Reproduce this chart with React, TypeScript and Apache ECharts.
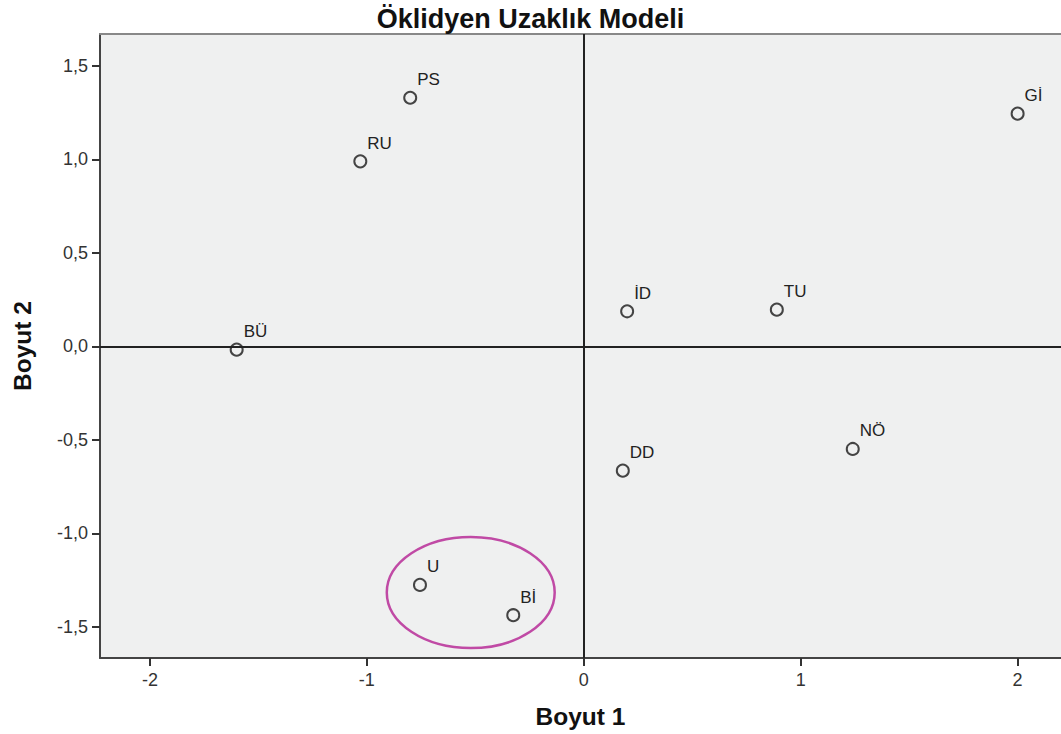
import React, { useEffect, useRef } from "react";
import * as echarts from "echarts";

const labels = ["PS", "RU", "Gİ", "İD", "TU", "BÜ", "NÖ", "DD", "U", "Bİ"];
const dim1 = [-0.8, -1.03, 2.0, 0.2, 0.89, -1.6, 1.24, 0.18, -0.755, -0.325];
const dim2 = [1.33, 0.99, 1.245, 0.188, 0.197, -0.017, -0.548, -0.664, -1.275, -1.437];

const xTicks = [-2, -1, 0, 1, 2];
const yTicks = [-1.5, -1.0, -0.5, 0.0, 0.5, 1.0, 1.5];

// highlighted cluster (data units): center x, center y, radius x, radius y
const clusterEllipse = { cx: -0.521, cy: -1.316, rx: 0.387, ry: 0.297 };

const FONT = "'Liberation Sans', Arial, sans-serif";

export default function App() {
  const ref = useRef<HTMLDivElement>(null);

  useEffect(() => {
    if (!ref.current) return;
    const chart = echarts.init(ref.current, null, { renderer: "svg" });
    const data = labels.map((n, i) => ({ name: n, value: [dim1[i], dim2[i]] }));
    const xMin = -2.23, xMax = 2.2, yMin = -1.666, yMax = 1.671;
    chart.setOption({
      animation: false,
      textStyle: { fontFamily: FONT },
      title: {
        text: "Öklidyen Uzaklık Modeli",
        left: "center",
        top: 0,
        textStyle: { fontFamily: FONT, fontSize: 27, fontWeight: "bold", color: "#111" },
      },
      grid: {
        left: 100,
        top: 34,
        right: 0,
        bottom: 76,
        show: true,
        backgroundColor: "#eff0f0",
        borderWidth: 0,
      },
      xAxis: [
        {
          type: "value",
          min: xMin,
          max: xMax,
          position: "bottom",
          name: "Boyut 1",
          nameLocation: "middle",
          nameGap: 46,
          nameTextStyle: { fontFamily: FONT, fontSize: 24.5, fontWeight: "bold", color: "#111" },
          axisLine: { show: true, onZero: false, lineStyle: { color: "#444", width: 2 } },
          axisTick: { show: true, length: 8, customValues: xTicks, lineStyle: { color: "#333", width: 2 } },
          axisLabel: {
            customValues: xTicks,
            margin: 13,
            fontFamily: FONT,
            fontSize: 18,
            color: "#333",
            formatter: (v: number) => String(v),
          },
          splitLine: { show: false },
        },
        {
          type: "value",
          min: xMin,
          max: xMax,
          position: "top",
          axisLine: { show: true, onZero: false, lineStyle: { color: "#888", width: 2 } },
          axisTick: { show: false },
          axisLabel: { show: false },
          splitLine: { show: false },
        },
      ],
      yAxis: {
        type: "value",
        min: yMin,
        max: yMax,
        name: "Boyut 2",
        nameLocation: "middle",
        nameGap: 65,
        nameRotate: 90,
        nameTextStyle: { fontFamily: FONT, fontSize: 24.5, fontWeight: "bold", color: "#111" },
        axisLine: { show: true, onZero: false, lineStyle: { color: "#444", width: 2 } },
        axisTick: { show: true, length: 8, customValues: yTicks, lineStyle: { color: "#333", width: 2 } },
        axisLabel: {
          customValues: yTicks,
          margin: 12,
          fontFamily: FONT,
          fontSize: 18,
          color: "#333",
          formatter: (v: number) => v.toFixed(1).replace(".", ","),
        },
        splitLine: { show: false },
      },
      series: [
        {
          type: "scatter",
          xAxisIndex: 0,
          data,
          symbol: "circle",
          symbolSize: 12,
          itemStyle: { color: "rgba(0,0,0,0)", borderColor: "#444", borderWidth: 2, opacity: 1 },
          label: {
            show: true,
            position: "right",
            distance: 0,
            offset: [0, -18],
            formatter: (p: any) => p.name,
            fontFamily: FONT,
            fontSize: 17,
            color: "#222",
          },
          markLine: {
            silent: true,
            symbol: ["none", "none"],
            label: { show: false },
            lineStyle: { color: "#222", width: 2, type: "solid" },
            data: [{ xAxis: 0 }, { yAxis: 0 }],
          },
          z: 3,
        },
      ],
    });

    const c = chart.convertToPixel({ gridIndex: 0 }, [clusterEllipse.cx, clusterEllipse.cy]) as number[];
    const e = chart.convertToPixel({ gridIndex: 0 }, [
      clusterEllipse.cx + clusterEllipse.rx,
      clusterEllipse.cy - clusterEllipse.ry,
    ]) as number[];
    chart.setOption({
      graphic: [
        {
          type: "ellipse",
          shape: { cx: c[0], cy: c[1], rx: Math.abs(e[0] - c[0]), ry: Math.abs(e[1] - c[1]) },
          style: { fill: "none", stroke: "#c04aa5", lineWidth: 2.5 },
          z: 10,
        },
      ],
    });

    return () => chart.dispose();
  }, []);

  return (
    <div
      ref={ref}
      style={{ position: "fixed", left: 0, top: 0, width: 1061, height: 734, background: "#fff" }}
    />
  );
}
